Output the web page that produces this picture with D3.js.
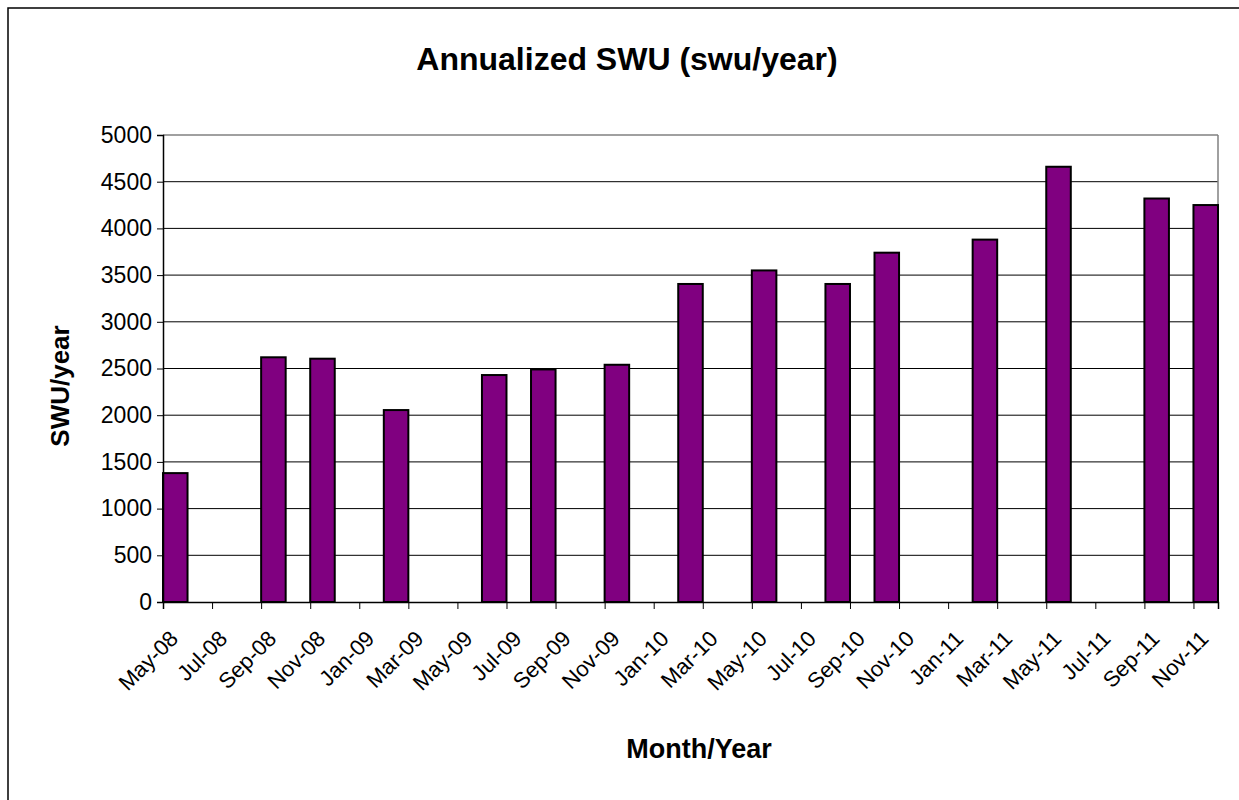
<!DOCTYPE html>
<html>
<head>
<meta charset="utf-8">
<script src="https://cdn.jsdelivr.net/npm/d3@7"></script>
<style>
  body { margin: 0; background: #fff; }
  svg { display: block; font-family: "Liberation Sans", Arial, sans-serif; }
</style>
</head>
<body>
<svg id="chart" width="1239" height="800"></svg>
<script>
// months on the date axis, May-08 .. Nov-11 (one slot per month)
const axisMonths = d3.timeMonth.range(new Date(2008, 4, 1), new Date(2011, 11, 1));

// tick labels, every second month
const tickLabels = ["May-08", "Jul-08", "Sep-08", "Nov-08", "Jan-09", "Mar-09", "May-09",
  "Jul-09", "Sep-09", "Nov-09", "Jan-10", "Mar-10", "May-10", "Jul-10", "Sep-10",
  "Nov-10", "Jan-11", "Mar-11", "May-11", "Jul-11", "Sep-11", "Nov-11"];

// months that have a value
const barMonths = ["2008-05", "2008-09", "2008-11", "2009-02", "2009-06", "2009-08", "2009-11",
  "2010-02", "2010-05", "2010-08", "2010-10", "2011-02", "2011-05", "2011-09", "2011-11"];

// annualized SWU values
const swuValues = [1380, 2620, 2605, 2055, 2430, 2490, 2540,
  3405, 3550, 3405, 3740, 3880, 4660, 4320, 4250];

const yTicks = [0, 500, 1000, 1500, 2000, 2500, 3000, 3500, 4000, 4500, 5000];

const svg = d3.select("#chart");

// outer frame
svg.append("rect")
  .attr("x", 8).attr("y", 8)
  .attr("width", 1240).attr("height", 800)
  .attr("fill", "none").attr("stroke", "#000").attr("stroke-width", 1.5);

const plotL = 163, plotR = 1218, plotT = 135, plotB = 602;

const parseMonth = d3.timeParse("%Y-%m");
const monthIndex = s => d3.timeMonth.count(axisMonths[0], parseMonth(s));

const x = d3.scaleLinear().domain([0, axisMonths.length]).range([plotL, plotR]);
const y = d3.scaleLinear().domain([0, 5000]).range([plotB, plotT]);

// gridlines
svg.append("g")
  .selectAll("line")
  .data(yTicks.filter(d => d > 0))
  .enter().append("line")
  .attr("x1", plotL).attr("x2", plotR)
  .attr("y1", d => y(d)).attr("y2", d => y(d))
  .attr("stroke", d => d === 5000 ? "#808080" : "#000")
  .attr("stroke-width", d => d === 5000 ? 1.5 : 1);

// right border of plot area
svg.append("line")
  .attr("x1", plotR).attr("x2", plotR)
  .attr("y1", plotT).attr("y2", plotB)
  .attr("stroke", "#808080").attr("stroke-width", 1.5);

// bars
const data = barMonths.map((m, i) => ({ month: m, value: swuValues[i] }));
svg.append("g")
  .selectAll("rect")
  .data(data)
  .enter().append("rect")
  .attr("x", d => x(monthIndex(d.month)))
  .attr("width", d => x(monthIndex(d.month) + 1) - x(monthIndex(d.month)))
  .attr("y", d => y(d.value))
  .attr("height", d => y(0) - y(d.value))
  .attr("fill", "#800080")
  .attr("stroke", "#000")
  .attr("stroke-width", 2);

// y axis
const yAxis = svg.append("g")
  .attr("transform", `translate(${plotL},0)`)
  .call(d3.axisLeft(y).tickValues(yTicks).tickFormat(d3.format("d")).tickSize(6).tickPadding(5));
yAxis.select(".domain").attr("stroke", "#000").attr("stroke-width", 1.5);
yAxis.selectAll(".tick line").attr("stroke", "#000");
yAxis.selectAll("text")
  .attr("font-size", 23).attr("fill", "#000")
  .attr("font-family", "Liberation Sans, Arial, sans-serif");

// x axis
const xAxis = svg.append("g")
  .attr("transform", `translate(0,${plotB})`)
  .call(d3.axisBottom(x)
    .tickValues(d3.range(0, axisMonths.length, 2))
    .tickFormat(i => tickLabels[i / 2])
    .tickSize(7));
xAxis.select(".domain").attr("stroke", "#000").attr("stroke-width", 1.5);
xAxis.selectAll(".tick line").attr("stroke", "#000");
xAxis.selectAll("text")
  .attr("font-size", 22).attr("fill", "#000")
  .attr("font-family", "Liberation Sans, Arial, sans-serif")
  .attr("text-anchor", "end")
  .attr("dy", null)
  .attr("y", 0)
  .attr("transform", "translate(16,38) rotate(-45)");

// titles
svg.append("text")
  .attr("x", 627).attr("y", 70)
  .attr("text-anchor", "middle")
  .attr("font-size", 32).attr("font-weight", "bold")
  .text("Annualized SWU (swu/year)");

svg.append("text")
  .attr("transform", "translate(69,386) rotate(-90)")
  .attr("text-anchor", "middle")
  .attr("font-size", 26).attr("font-weight", "bold")
  .text("SWU/year");

svg.append("text")
  .attr("x", 699).attr("y", 758)
  .attr("text-anchor", "middle")
  .attr("font-size", 27).attr("font-weight", "bold")
  .text("Month/Year");
</script>
</body>
</html>
